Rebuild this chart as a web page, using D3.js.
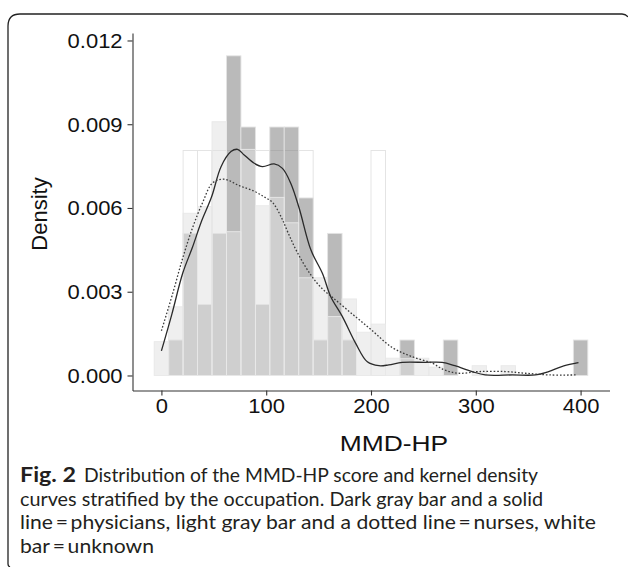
<!DOCTYPE html>
<html><head><meta charset="utf-8">
<script src="https://cdn.jsdelivr.net/npm/d3@7"></script>
<style>html,body{margin:0;padding:0;background:#fff;} svg{display:block;}</style>
</head><body>
<script>
// ---- data ----
const binWidth = 13.79;
const binCenters = [0, 13.8, 27.6, 41.4, 55.2, 69.0, 82.8, 96.6, 110.3, 124.1, 137.9, 151.7, 165.5, 179.3, 193.1,
                    206.9, 220.7, 234.5, 248.3, 262.1, 275.9, 289.7, 303.4, 317.2, 331.0, 344.8, 358.6, 372.4, 386.2, 400];
const physiciansDensity = [0, 0.00127, 0.00509, 0.00254, 0.00509, 0.01145, 0.0089, 0.00254, 0.0089, 0.0089,
                           0.00636, 0.00127, 0.00509, 0.00127, 0, 0, 0, 0.00127, 0, 0,
                           0.00127, 0, 0, 0, 0, 0, 0, 0, 0, 0.00127];
const nursesDensity = [0.00121, 0.00246, 0.00581, 0.00605, 0.00909, 0.00515, 0.0081, 0.00608, 0.00638, 0.00547,
                       0.0035, 0.0035, 0.00211, 0.00274, 0.00155, 0.00184, 0.00062, 0.0006, 0.00062, 0.0003,
                       0, 0, 0.00035, 0, 0.00035, 0, 0, 0, 0, 0];
const unknownDensity = [0, 0, 0.00806, 0.00806, 0.00806, 0.00806, 0.00806, 0.00806, 0.00806, 0.00806,
                        0.00806, 0, 0, 0, 0, 0.00806, 0, 0, 0, 0,
                        0, 0, 0, 0, 0, 0, 0, 0, 0, 0];
const physCurveX = [0, 10, 20.3, 29.8, 38, 47.9, 56.9, 66.4, 72.7, 79, 88.6, 96.5, 107.6, 115.5, 123.5, 131.4, 142.6, 153.6,
                    161.6, 172.7, 185.4, 196.5, 207.6, 217, 229.8, 252, 267.9, 280, 296.5, 309, 335, 357, 369.5, 382, 395.5, 398];
const physCurveY = [0.00088, 0.0022, 0.00366, 0.00461, 0.0055, 0.0064, 0.00748, 0.00802, 0.0081, 0.0079, 0.0076, 0.00748, 0.00758, 0.00742, 0.00688, 0.006, 0.0045, 0.00366,
                    0.00282, 0.00211, 0.00115, 0.00049, 0.00035, 0.00038, 0.00047, 0.00047, 0.00047, 0.00035, 0.00014, 0.00002, 0.00002, 0.00002, 0.00014, 0.00032, 0.00044, 0.00046];
const nurseCurveX = [0, 10.8, 20.3, 29.8, 39.4, 48.9, 60, 74.3, 88.6, 98, 106, 114, 121, 129.8, 142.6, 153.6, 163.2, 182.2,
                     201.3, 220.3, 239.4, 258.4, 270, 283.8, 302.9, 328.3, 347.3, 370, 396];
const nurseCurveY = [0.0016, 0.00294, 0.0042, 0.0053, 0.0062, 0.0069, 0.00703, 0.0068, 0.0066, 0.0064, 0.0062, 0.0057, 0.0051, 0.0044, 0.0036, 0.0031, 0.0028, 0.0022,
                     0.0016, 0.0010, 0.00067, 0.00044, 0.0002, 0.00008, 0.00014, 0.00014, 0.00008, 0.00002, 0.00002];
const xTicks = [0, 100, 200, 300, 400];
const xTickLabels = ["0", "100", "200", "300", "400"];
const yTicks = [0, 0.003, 0.006, 0.009, 0.012];
const yTickLabels = ["0.000", "0.003", "0.006", "0.009", "0.012"];
const captionLines = [
  "Distribution of the MMD-HP score and kernel density",
  "curves stratified by the occupation. Dark gray bar and a solid",
  "line\u2009=\u2009physicians, light gray bar and a dotted line\u2009=\u2009nurses, white",
  "bar\u2009=\u2009unknown"
];

// ---- drawing ----
const W = 628, H = 567;
const svg = d3.select("body").append("svg").attr("width", W).attr("height", H);
svg.append("rect").attr("width", W).attr("height", H).attr("fill", "#fff");

// frame (open box with rounded top-left corner)
svg.append("path")
  .attr("d", "M8,564 Q8,566 10,567 M8,564 L8,26 Q8,14 20,14 L622,14 Q626,14 628,17")
  .attr("fill", "none").attr("stroke", "#222").attr("stroke-width", 1.3);

const x = d3.scaleLinear().domain([-27.59, 427.59]).range([132.5, 609.5]);
const y = d3.scaleLinear().domain([-0.000538, 0.012268]).range([390.5, 33]);

const barW = x(binWidth) - x(0);
function drawBars(vals, fill, stroke) {
  svg.append("g").selectAll("rect")
    .data(vals.map((v, i) => ({c: binCenters[i], v})).filter(d => d.v > 0))
    .join("rect")
    .attr("x", d => x(d.c - binWidth / 2))
    .attr("width", barW)
    .attr("y", d => y(d.v))
    .attr("height", d => y(0) - y(d.v))
    .attr("fill", fill)
    .attr("stroke", stroke)
    .attr("stroke-width", 0.9);
}
drawBars(unknownDensity, "#ffffff", "#e2e2e2");
drawBars(physiciansDensity, "rgba(126,126,126,0.536)", "#e4e4e4");
drawBars(nursesDensity, "rgba(225,225,225,0.536)", "#e8e8e8");

const line = d3.line().curve(d3.curveCatmullRom.alpha(0.5));
svg.append("path")
  .attr("d", line(physCurveX.map((v, i) => [x(v), y(physCurveY[i])])))
  .attr("fill", "none").attr("stroke", "#2a2a2a").attr("stroke-width", 1.3);
svg.append("path")
  .attr("d", line(nurseCurveX.map((v, i) => [x(v), y(nurseCurveY[i])])))
  .attr("fill", "none").attr("stroke", "#3a3a3a").attr("stroke-width", 1.3)
  .attr("stroke-dasharray", "1.6,1.9");

// axes
const font = "'Liberation Sans', Arial, Helvetica, sans-serif";
const yAxis = svg.append("g").attr("transform", "translate(132.5,0)")
  .call(d3.axisLeft(y).tickValues(yTicks).tickSize(5).tickSizeOuter(0)
        .tickFormat((d, i) => yTickLabels[i]));
const xAxis = svg.append("g").attr("transform", "translate(0,390.5)")
  .call(d3.axisBottom(x).tickValues(xTicks).tickSize(5).tickSizeOuter(0)
        .tickFormat((d, i) => xTickLabels[i]));
[yAxis, xAxis].forEach(g => {
  g.select(".domain").attr("stroke", "#333").attr("stroke-width", 1.1);
  g.selectAll(".tick line").attr("stroke", "#333").attr("stroke-width", 1.1);
  g.selectAll(".tick text").attr("fill", "#111").attr("font-family", font).attr("font-size", 20);
});
yAxis.selectAll(".tick text").attr("x", -9).attr("dy", "0.35em")
  .attr("transform", "scale(1.1,1)");
xAxis.selectAll(".tick text").attr("y", 8).attr("dy", "0.71em")
  .attr("transform", "scale(1.1,1)");

// axis titles
svg.append("text").attr("transform", "translate(394,451) scale(1.2,1)")
  .attr("text-anchor", "middle").attr("font-family", font).attr("font-size", 22)
  .attr("fill", "#111").text("MMD-HP");
svg.append("text").attr("transform", "translate(47,214) rotate(-90)")
  .attr("text-anchor", "middle").attr("font-family", font).attr("font-size", 22)
  .attr("fill", "#111").text("Density");

// caption
const capFont = "Lato, 'Noto Sans', sans-serif";
const capBase = [482, 505.5, 529, 552.5];
const capRight = [538, 543, 596, 154];
svg.append("text").attr("x", 20).attr("y", capBase[0])
  .attr("font-family", capFont).attr("font-weight", "bold").attr("font-size", 20)
  .attr("fill", "#231f20").attr("textLength", 56).attr("lengthAdjust", "spacingAndGlyphs")
  .text("Fig. 2");
captionLines.forEach((t, i) => {
  const x0 = i === 0 ? 84 : 20;
  svg.append("text").attr("x", x0).attr("y", capBase[i])
    .attr("font-family", capFont).attr("font-size", 20).attr("fill", "#231f20")
    .attr("textLength", capRight[i] - x0).attr("lengthAdjust", "spacingAndGlyphs")
    .text(t);
});
</script>
</body></html>
